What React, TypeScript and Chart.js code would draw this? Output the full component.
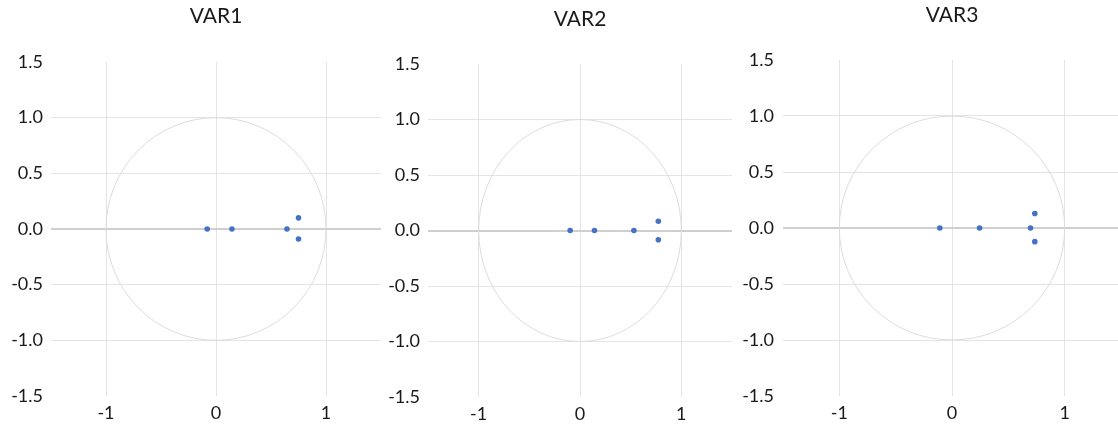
import React, { useEffect, useRef } from "react";
import { Chart, registerables } from "chart.js";

Chart.register(...registerables);

// ---- data ----
const titles = ["VAR1", "VAR2", "VAR3"];
const xTickValues = [-1, 0, 1];
const yTickValues = [-1.5, -1.0, -0.5, 0, 0.5, 1.0, 1.5];

const var1X = [-0.08, 0.145, 0.645, 0.75, 0.75];
const var1Y = [0, 0, 0, 0.1, -0.09];

const var2X = [-0.097, 0.143, 0.532, 0.773, 0.773];
const var2Y = [0, 0, 0, 0.084, -0.084];

const var3X = [-0.108, 0.245, 0.697, 0.735, 0.735];
const var3Y = [0, 0, 0, 0.13, -0.122];

const seriesX = [var1X, var2X, var3X];
const seriesY = [var1Y, var2Y, var3Y];

// ---- layout (positions only) ----
const panels = [
  { left: 0, width: 385, axisW: 51, top: 62, xAxisH: 33, labelPad: 8, titleY: 23 },
  { left: 386, width: 350, axisW: 42, top: 64, xAxisH: 32, labelPad: 8, titleY: 26 },
  { left: 739, width: 386, axisW: 44, top: 60, xAxisH: 33, labelPad: 9, titleY: 22 },
];

const FONT = "Lato, 'Open Sans', sans-serif";
const TEXT = "#1a1a1a";
const GRID = "#e4e4e4";
const ZERO = "#cfcfcf";
const CIRCLE = "#dcdcdc";
const POINT = "#4472C4";

const circlePlugin = {
  id: "unitCircle",
  beforeDatasetsDraw(chart: any) {
    const { x, y } = chart.scales;
    const ctx = chart.ctx;
    const cx = x.getPixelForValue(0);
    const cy = y.getPixelForValue(0);
    const rx = x.getPixelForValue(1) - cx;
    const ry = cy - y.getPixelForValue(1);
    ctx.save();
    ctx.beginPath();
    ctx.ellipse(cx, cy, rx, ry, 0, 0, Math.PI * 2);
    ctx.strokeStyle = CIRCLE;
    ctx.lineWidth = 1;
    ctx.stroke();
    ctx.restore();
  },
};

const titlePlugin = {
  id: "panelTitle",
  afterDraw(chart: any, _args: any, opts: any) {
    const ctx = chart.ctx;
    const area = chart.chartArea;
    ctx.save();
    ctx.font = `21px ${FONT}`;
    ctx.fillStyle = TEXT;
    ctx.textAlign = "center";
    ctx.textBaseline = "alphabetic";
    ctx.fillText(opts.text, (area.left + area.right) / 2, opts.y);
    ctx.restore();
  },
};

function Panel({ index }: { index: number }) {
  const ref = useRef<HTMLCanvasElement | null>(null);
  const p = panels[index];
  useEffect(() => {
    if (!ref.current) return;
    const data = seriesX[index].map((v, i) => ({ x: v, y: seriesY[index][i] }));
    const chart = new Chart(ref.current, {
      type: "scatter",
      data: {
        datasets: [
          {
            data,
            pointRadius: 2.8,
            pointBackgroundColor: POINT,
            pointBorderColor: POINT,
            pointBorderWidth: 0,
          },
        ],
      },
      plugins: [circlePlugin, titlePlugin],
      options: {
        animation: false,
        responsive: false,
        maintainAspectRatio: false,
        layout: { padding: { top: p.top, left: 0, right: 0, bottom: 0 } },
        plugins: {
          legend: { display: false },
          tooltip: { enabled: false },
          title: { display: false },
          panelTitle: { text: titles[index], y: p.titleY },
        } as any,
        scales: {
          x: {
            type: "linear",
            min: -1.5,
            max: 1.5,
            afterBuildTicks: (s: any) => {
              s.ticks = xTickValues.map((v) => ({ value: v }));
            },
            afterFit: (s: any) => {
              s.height = p.xAxisH;
            },
            ticks: {
              font: { family: FONT, size: 18 },
              color: TEXT,
              padding: 6,
              maxRotation: 0,
              autoSkip: false,
              callback: (v: any) => String(v),
            },
            grid: { color: GRID, lineWidth: 1, drawTicks: false },
            border: { display: false },
          },
          y: {
            type: "linear",
            min: -1.5,
            max: 1.5,
            afterBuildTicks: (s: any) => {
              s.ticks = yTickValues.map((v) => ({ value: v }));
            },
            afterFit: (s: any) => {
              s.width = p.axisW;
            },
            ticks: {
              font: { family: FONT, size: 18 },
              color: TEXT,
              padding: p.labelPad,
              autoSkip: false,
              callback: (v: any) => Number(v).toFixed(1),
            },
            grid: {
              color: (c: any) =>
                c.tick && c.tick.value === 0
                  ? ZERO
                  : c.tick && Math.abs(c.tick.value) === 1.5
                  ? "rgba(0,0,0,0)"
                  : GRID,
              lineWidth: (c: any) => (c.tick && c.tick.value === 0 ? 2 : 1),
              drawTicks: false,
            },
            border: { display: false },
          },
        },
      } as any,
    });
    return () => chart.destroy();
  }, [index]);
  return (
    <canvas
      ref={ref}
      width={p.width}
      height={429}
      style={{ position: "absolute", left: p.left, top: 0, width: p.width, height: 429 }}
    />
  );
}

export default function App() {
  return (
    <div
      style={{
        position: "absolute",
        left: 0,
        top: 0,
        width: 1118,
        height: 429,
        overflow: "hidden",
        background: "#ffffff",
      }}
    >
      {titles.map((_, i) => (
        <Panel key={i} index={i} />
      ))}
    </div>
  );
}
